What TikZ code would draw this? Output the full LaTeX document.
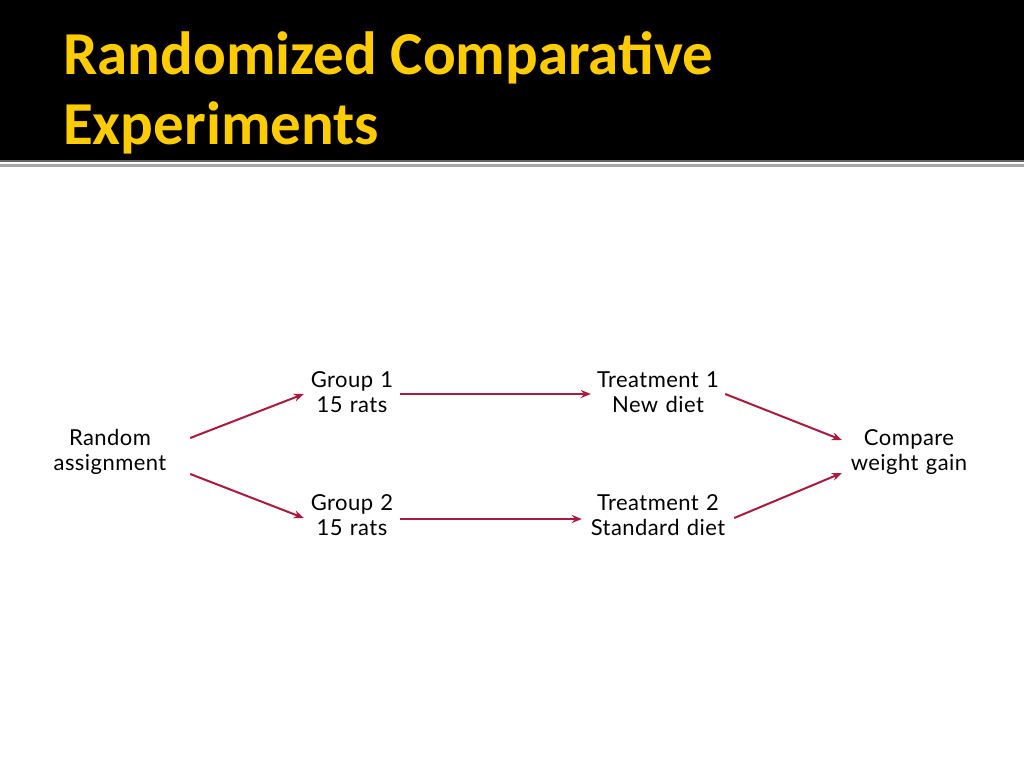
\documentclass[tikz,border=0pt]{standalone}
\usepackage{fontspec}
\setmainfont[LetterSpace=2]{Lato}
\newfontfamily\titlefont{Carlito}
\usepackage{tikz}
\usetikzlibrary{arrows.meta, positioning}
\usepackage{xcolor}
\definecolor{titlegold}{RGB}{255, 204, 0}
\definecolor{arrowred}{RGB}{170, 25, 62}

\begin{document}
\begin{tikzpicture}[x=1pt, y=1pt,
    step box/.style={align=center, inner sep=0pt, font=\fontsize{22}{25}\selectfont},
    arr/.style={draw=arrowred, line width=2pt, -{Stealth[length=10pt, width=8pt]}}]
    \useasboundingbox (0,0) rectangle (1024,768);
    \fill[white] (0,0) rectangle (1024,768);
    % title bar
    \fill[black] (0,608) rectangle (1024,768);
    \draw[black!60, line width=1.5pt] (0,607) -- (1024,607);
    \draw[black!35, line width=3pt] (0,602.5) -- (1024,602.5);
    \node[anchor=base west, inner sep=0pt, text=titlegold,
          font=\titlefont\bfseries\fontsize{61}{70}\selectfont] (title1) at (63,693) {Randomized Comparative};
    \node[anchor=base west, inner sep=0pt, text=titlegold,
          font=\titlefont\bfseries\fontsize{61}{70}\selectfont] (title2) at (63,623) {Experiments};
    
    % design
    \node[step box, text width=160pt] (rand) at (110,316) {Random\\assignment};
    \node[step box, text width=96pt] (grpA) at (352,376) {Group 1\\15 rats};
    \node[step box, text width=96pt] (grpB) at (352,253) {Group 2\\15 rats};
    \node[step box, text width=134pt] (trtA) at (658,376) {Treatment 1\\New diet};
    \node[step box, text width=152pt] (trtB) at (658,253) {Treatment 2\\Standard diet};
    \node[step box, text width=134pt] (gain) at (909,316) {Compare\\weight gain};
    
    \draw[arr] ([yshift=14pt]rand.east) -- ([yshift=-2pt]grpA.west);
    \draw[arr] ([yshift=-22pt]rand.east) -- ([yshift=-3pt]grpB.west);
    \draw[arr] ([yshift=-2pt]grpA.east) -- ([yshift=-2pt]trtA.west);
    \draw[arr] ([yshift=-4pt]grpB.east) -- ([yshift=-4pt]trtB.west);
    \draw[arr] ([yshift=-2pt]trtA.east) -- ([yshift=12pt]gain.west);
    \draw[arr] ([yshift=-3pt]trtB.east) -- ([yshift=-21pt]gain.west);
\end{tikzpicture}
\end{document}
